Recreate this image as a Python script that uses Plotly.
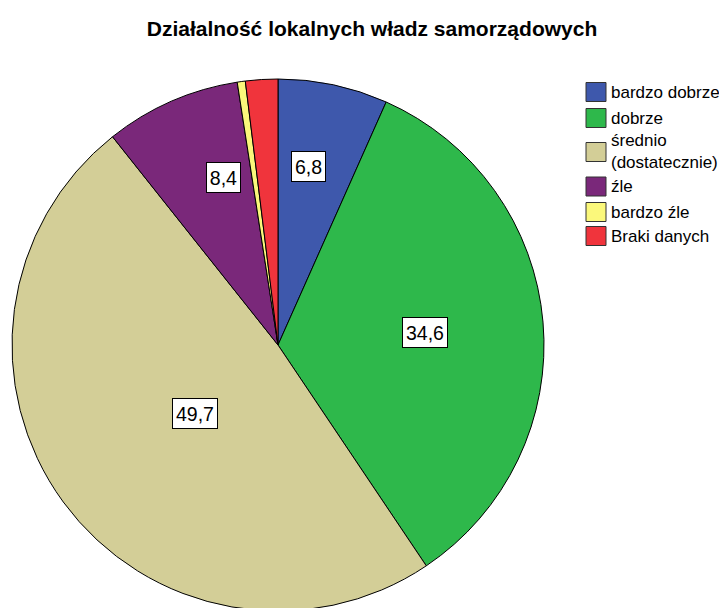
import math
import plotly.graph_objects as go

categories = ["bardzo dobrze", "dobrze", "średnio<br>(dostatecznie)", "źle", "bardzo źle", "Braki danych"]
values = [6.8, 34.6, 49.7, 8.4, 0.5, 2.0]
label_texts = ["6,8", "34,6", "49,7", "8,4", "", ""]
colors = ["#3E58AC", "#2EB84B", "#D3CE97", "#7A287A", "#FBF87B", "#F0343C"]

# layout settings (not data)
label_radius = [0.738, 0.555, 0.507, 0.739, 0, 0]   # fraction of pie radius
label_along = [0.367, 0.50, 0.487, 0.57, 0, 0]       # position along slice arc (0..1)
legend_rows_y = [92, 118, 152, 186.5, 212, 236]
W, H = 727, 608
CX, CY, R = 278, 345, 266      # target pie centre / radius in window px
PAGE_OFF = 8                   # default body margin of the html page


def xp(x):
    return (x - PAGE_OFF) / W


def yp(y):
    return 1 - (y - PAGE_OFF) / H


dom_x = [xp(CX - R), xp(CX + R)]
dom_y = [max(0, yp(CY + R)), min(1, yp(CY - R))]

fig = go.Figure(go.Pie(
    labels=categories, values=values, sort=False, direction="clockwise", rotation=0,
    marker=dict(colors=colors, line=dict(color="black", width=1)),
    textinfo="none", hoverinfo="label+value", showlegend=False,
    domain=dict(x=dom_x, y=dom_y),
))

font_fam = "Arial, Liberation Sans"
total = sum(values)
cum = 0
for v, t, fr, al in zip(values, label_texts, label_radius, label_along):
    ang = (cum + v * al) / total * 2 * math.pi
    cum += v
    if not t:
        continue
    px = CX + fr * R * math.sin(ang)
    py = CY - fr * R * math.cos(ang)
    fig.add_annotation(x=xp(px), y=yp(py), xref="paper", yref="paper", text=t,
                       showarrow=False, bgcolor="white", bordercolor="black", borderwidth=1,
                       borderpad=2, width=11 * len(t) - 4, height=25,
                       font=dict(family=font_fam, size=19.5, color="black"))

# legend drawn with swatches + text
for cat, col, ry in zip(categories, colors, legend_rows_y):
    fig.add_shape(type="rect", xref="paper", yref="paper",
                  x0=xp(586), x1=xp(606), y0=yp(ry - 9.5), y1=yp(ry + 9.5),
                  fillcolor=col, line=dict(color="#333333", width=1))
    fig.add_annotation(x=xp(609), y=yp(ry), xref="paper", yref="paper", text=cat,
                       showarrow=False, xanchor="left", yanchor="middle", align="left",
                       font=dict(family=font_fam, size=17, color="black"))

fig.update_layout(
    width=W, height=H, margin=dict(l=0, r=0, t=0, b=0),
    paper_bgcolor="white", plot_bgcolor="white",
    title=dict(text="<b>Działalność lokalnych władz samorządowych</b>", x=xp(372), xanchor="center",
               y=yp(29), yanchor="middle",
               font=dict(family=font_fam, size=21, color="black")),
    font=dict(family=font_fam),
)

fig.write_html("out.html")
